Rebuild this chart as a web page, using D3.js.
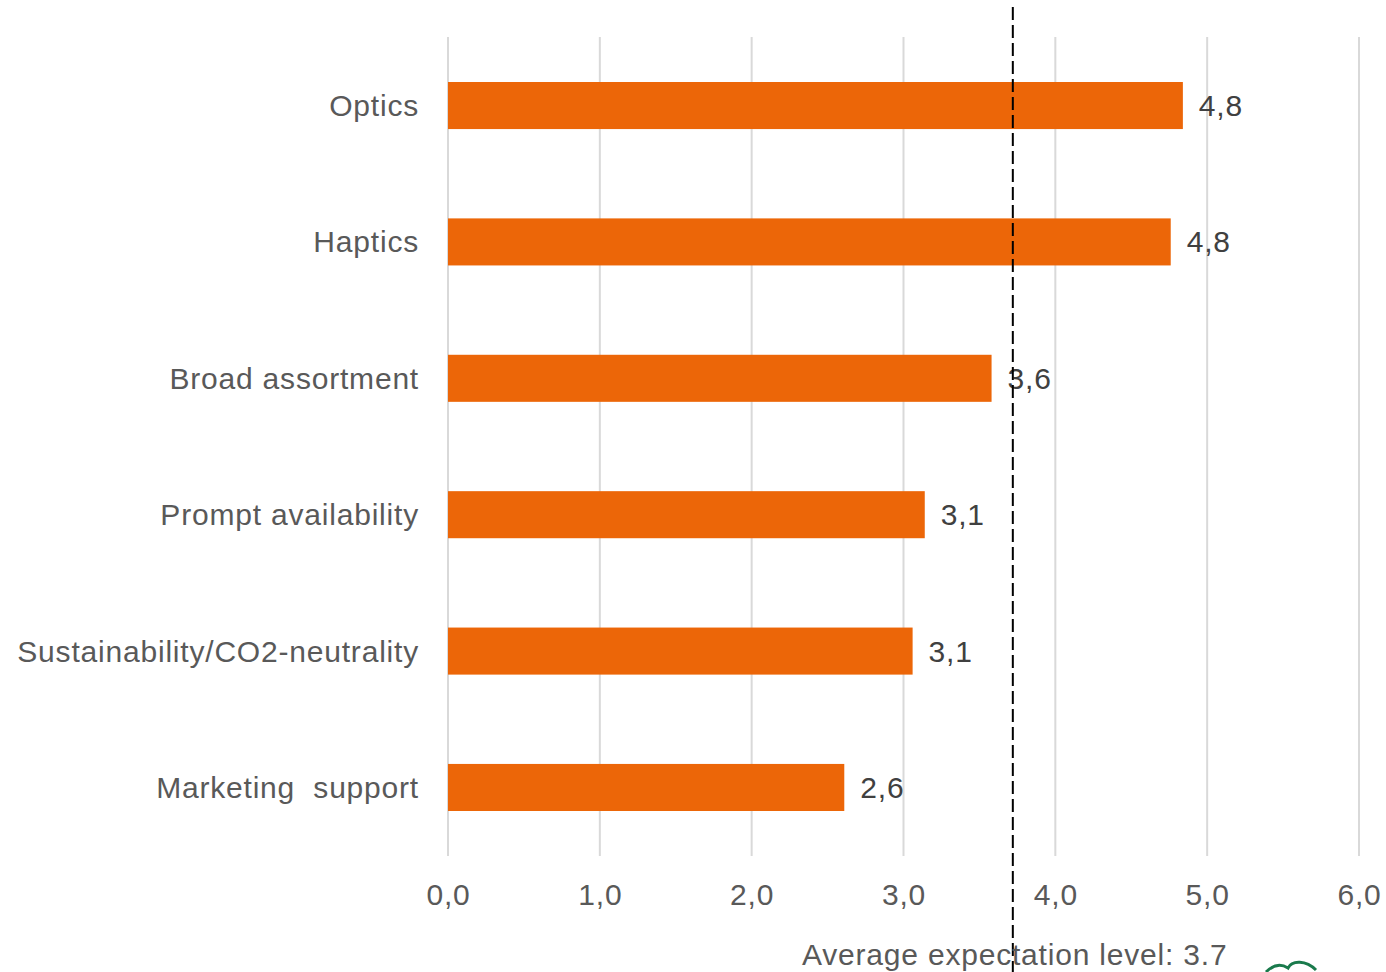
<!DOCTYPE html>
<html>
<head>
<meta charset="utf-8">
<script src="https://cdn.jsdelivr.net/npm/d3@7"></script>
<style>
  html, body { margin: 0; padding: 0; background: #ffffff; }
  svg { display: block; font-family: "Liberation Sans", Arial, sans-serif; }
  svg text { white-space: pre; letter-spacing: 0.8px; }
</style>
</head>
<body>
<script>
// Expectation scores per criterion (scale 0–6)
const categories = [
  "Optics",
  "Haptics",
  "Broad assortment",
  "Prompt availability",
  "Sustainability/CO2-neutrality",
  "Marketing  support"
];
const values = [4.84, 4.76, 3.58, 3.14, 3.06, 2.61];
const averageLevel = 3.72;
const tickValues = [0, 1, 2, 3, 4, 5, 6];

const width = 1386, height = 972;
const svg = d3.select("body").append("svg")
  .attr("width", width)
  .attr("height", height);

const x = d3.scaleLinear().domain([0, 6]).range([448, 1359]);
const y = d3.scaleBand().domain(categories).range([37, 856]).paddingInner(0.655).paddingOuter(0.33);

const comma = v => d3.format(".1f")(v).replace(".", ",");

// Vertical gridlines
svg.append("g")
  .selectAll("line")
  .data(tickValues)
  .join("line")
  .attr("x1", d => x(d)).attr("x2", d => x(d))
  .attr("y1", 37).attr("y2", 856)
  .attr("stroke", "#d9d9d9")
  .attr("stroke-width", 2);

// X axis tick labels
const xAxis = d3.axisBottom(x).tickValues(tickValues).tickFormat(comma).tickSize(0).tickPadding(0);
const gx = svg.append("g").attr("transform", "translate(0,884)").call(xAxis);
gx.select(".domain").remove();
gx.selectAll("text")
  .attr("font-size", 30)
  .attr("fill", "#595959")
  .attr("dy", "0.71em")
  .attr("font-family", "Liberation Sans, Arial, sans-serif");

// Category labels
const yAxis = d3.axisLeft(y).tickSize(0).tickPadding(0);
const gy = svg.append("g").attr("transform", "translate(419,0)").call(yAxis);
gy.select(".domain").remove();
gy.selectAll("text")
  .attr("font-size", 30)
  .attr("fill", "#595959")
  .attr("dy", "0.35em")
  .attr("font-family", "Liberation Sans, Arial, sans-serif");

// Bars
svg.append("g")
  .selectAll("rect")
  .data(values)
  .join("rect")
  .attr("x", x(0))
  .attr("y", (d, i) => y(categories[i]))
  .attr("width", d => x(d) - x(0))
  .attr("height", y.bandwidth())
  .attr("fill", "#ec6608");

// Value labels
svg.append("g")
  .selectAll("text")
  .data(values)
  .join("text")
  .attr("x", d => x(d) + 16)
  .attr("y", (d, i) => y(categories[i]) + y.bandwidth() / 2)
  .attr("dy", "0.35em")
  .attr("font-size", 30)
  .attr("fill", "#404040")
  .text(d => comma(d));

// Average expectation reference line
svg.append("line")
  .attr("x1", x(averageLevel)).attr("x2", x(averageLevel))
  .attr("y1", 7).attr("y2", 972)
  .attr("stroke", "#000000")
  .attr("stroke-width", 2)
  .attr("stroke-dasharray", "13,5");

svg.append("text")
  .attr("x", 802)
  .attr("y", 965)
  .attr("font-size", 30)
  .attr("fill", "#595959")
  .text("Average expectation level: " + d3.format(".1f")(averageLevel));

// Corner logo mark (partially visible)
svg.append("path")
  .attr("d", "M1266,972 C1272,966 1280,963 1288,968 C1292,960 1306,960 1316,970")
  .attr("fill", "none")
  .attr("stroke", "#1a7a4c")
  .attr("stroke-width", 3);
</script>
</body>
</html>
